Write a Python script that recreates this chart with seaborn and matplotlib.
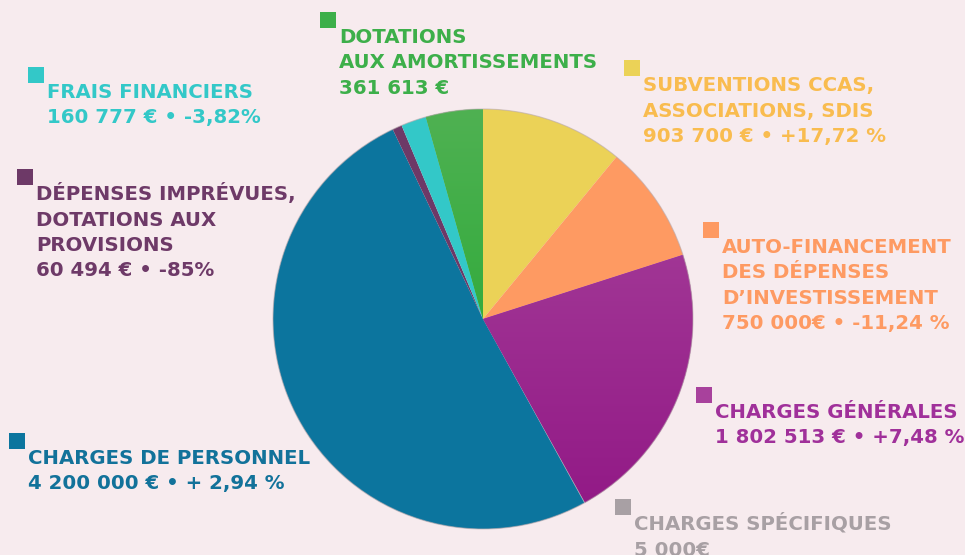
import numpy as np
import matplotlib
matplotlib.use("Agg")
import matplotlib.pyplot as plt
import seaborn as sns
from matplotlib.colors import LinearSegmentedColormap

sns.set_theme(style="white")
plt.rcParams['font.family'] = ['DejaVu Sans']

# ---- data ----
categories = [
    "SUBVENTIONS CCAS, ASSOCIATIONS, SDIS",
    "AUTO-FINANCEMENT DES DÉPENSES D’INVESTISSEMENT",
    "CHARGES GÉNÉRALES",
    "CHARGES SPÉCIFIQUES",
    "CHARGES DE PERSONNEL",
    "DÉPENSES IMPRÉVUES, DOTATIONS AUX PROVISIONS",
    "FRAIS FINANCIERS",
    "DOTATIONS AUX AMORTISSEMENTS",
]
values = [903700, 750000, 1802513, 5000, 4200000, 60494, 160777, 361613]
label_lines = [
    ["SUBVENTIONS CCAS,", "ASSOCIATIONS, SDIS", "903 700 € • +17,72 %"],
    ["AUTO-FINANCEMENT", "DES DÉPENSES", "D’INVESTISSEMENT", "750 000€ • -11,24 %"],
    ["CHARGES GÉNÉRALES", "1 802 513 € • +7,48 %"],
    ["CHARGES SPÉCIFIQUES", "5 000€"],
    ["CHARGES DE PERSONNEL", "4 200 000 € • + 2,94 %"],
    ["DÉPENSES IMPRÉVUES,", "DOTATIONS AUX", "PROVISIONS", "60 494 € • -85%"],
    ["FRAIS FINANCIERS", "160 777 € • -3,82%"],
    ["DOTATIONS", "AUX AMORTISSEMENTS", "361 613 €"],
]

# ---- styles / layout ----
slice_colors = ["#ebd257", "#fe9a62", "#a4309a", "#a8a0a4",
                "#0c759e", "#6d3967", "#33c8c8", "#2fab3e"]
text_colors = ["#f9bc4f", "#fe9a62", "#a0309a", "#a8a0a4",
               "#12729a", "#6e3a68", "#33c8c8", "#3daf4a"]
square_colors = ["#ebd257", "#fe9a62", "#a8419c", "#a8a0a4",
                 "#0c759e", "#6d3967", "#33c8c8", "#3daf4a"]
# text left x, first baseline y (pixel coords, y from top)
label_pos = [(643, 91), (722, 253), (715, 418), (634, 530),
             (28, 464), (36, 200), (47, 98), (339, 43)]
gradients = {2: ("#a9469d", "#911785"), 7: ("#4fb152", "#1aa62a")}

W, H = 965, 555
bg = "#f7ebee"
fig = plt.figure(figsize=(W / 100, H / 100), dpi=100, facecolor=bg)
ax = fig.add_axes([0, 0, 1, 1])
ax.set_facecolor(bg)

cx, cy, r = 483, H - 319, 210
wedges, _ = ax.pie(values, colors=slice_colors, startangle=90, counterclock=False,
                   center=(cx, cy), radius=r,
                   wedgeprops=dict(linewidth=0.6, edgecolor="none"))

for i, (c0, c1) in gradients.items():
    cmap = LinearSegmentedColormap.from_list("g%d" % i, [c1, c0])
    grad = np.linspace(0, 1, 256).reshape(-1, 1)
    im = ax.imshow(grad, cmap=cmap, origin="lower", aspect="auto",
                   extent=(cx - r, cx + r, cy - r, cy + r), zorder=wedges[i].get_zorder() + 0.1)
    im.set_clip_path(wedges[i])

# subtle rim
circ = plt.Circle((cx, cy), r, fill=False, edgecolor="#b9a9ad", linewidth=0.8, alpha=0.6, zorder=5)
ax.add_patch(circ)

line_h = 25.5
sq = 16
fs = 14.2
for lines, (x, y), tc, sc in zip(label_lines, label_pos, text_colors, square_colors):
    cap = 14.5
    ax.add_patch(plt.Rectangle((x - 19, H - (y - cap - 0.5)), sq, sq, facecolor=sc,
                               edgecolor="none", zorder=6))
    for k, ln in enumerate(lines):
        ax.text(x, H - (y + k * line_h), ln, color=tc, fontsize=fs, fontweight="bold",
                ha="left", va="baseline", zorder=6)

ax.set_xlim(0, W)
ax.set_ylim(0, H)
ax.set_aspect("equal")
ax.axis("off")
fig.savefig("out.png", dpi=100, facecolor=bg)
